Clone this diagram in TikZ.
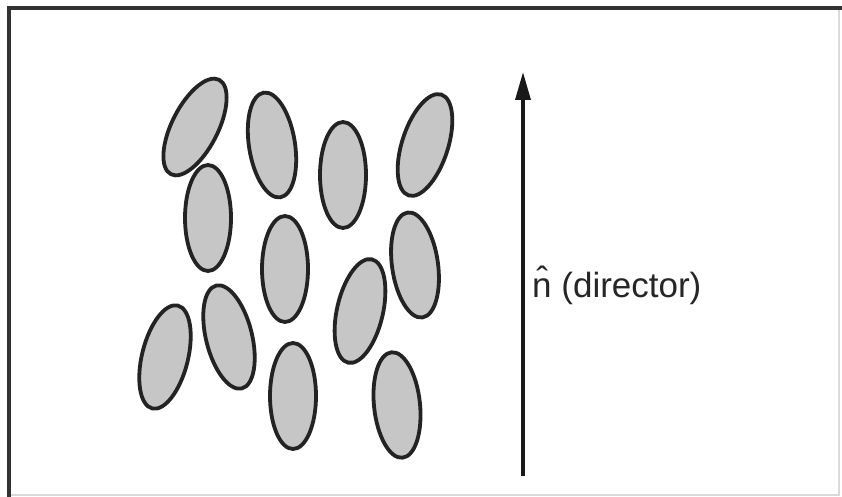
\documentclass[tikz,border=0pt]{standalone}
\usepackage{fontspec}
\setmainfont{Liberation Sans}
\usetikzlibrary{arrows.meta,shapes.geometric}
\definecolor{molfill}{RGB}{198,198,198}
\definecolor{molline}{RGB}{35,35,35}
\begin{document}
\begin{tikzpicture}[x=1pt,y=-1pt,
  molecule/.style={ellipse, draw=molline, line width=3.8pt, fill=molfill,
    inner sep=0pt, outer sep=0pt, minimum width=46pt, minimum height=106pt},
  frameline/.style={line width=4pt, draw=black!80},
  faintline/.style={line width=1.5pt, draw=black!15},
  director/.style={line width=3.5pt, draw=black!90,
    -{Triangle[length=28pt,width=15pt]}},
  ]
\useasboundingbox (0,0) rectangle (842,497);
\fill[white] (0,0) rectangle (842,497);

% frame
\coordinate (ftl) at (9,8);
\coordinate (ftr) at (842,8);
\coordinate (fbl) at (9,497);
\coordinate (frt) at (839,8);
\coordinate (frb) at (839,495);
\coordinate (fbb) at (9,495);
\draw[faintline] (frt) -- (frb) -- (fbb);
\draw[frameline] (ftr) -- (ftl) -- (fbl);

% molecules
\node[molecule, rotate=-27] (m1)  at (195,127) {};
\node[molecule, rotate=9]   (m2)  at (272,145) {};
\node[molecule]             (m3)  at (343,175) {};
\node[molecule, rotate=-18] (m4)  at (425,145) {};
\node[molecule]             (m5)  at (208,218) {};
\node[molecule]             (m6)  at (285,269) {};
\node[molecule, rotate=8]   (m7)  at (415,265) {};
\node[molecule, rotate=-13] (m8)  at (360,311) {};
\node[molecule, rotate=-14] (m9)  at (165,357) {};
\node[molecule, rotate=14]  (m10) at (229,337) {};
\node[molecule]             (m11) at (293,396) {};
\node[molecule, rotate=6]   (m12) at (397,405) {};

% director arrow
\coordinate (nbase) at (523,476);
\coordinate (ntip) at (523,72);
\draw[director] (nbase) -- (ntip);

\node[anchor=base west, inner sep=0pt, text=black!85,
  font=\fontsize{35}{42}\selectfont] (lbl) at (532,297) {\^{n} (director)};
\end{tikzpicture}
\end{document}
